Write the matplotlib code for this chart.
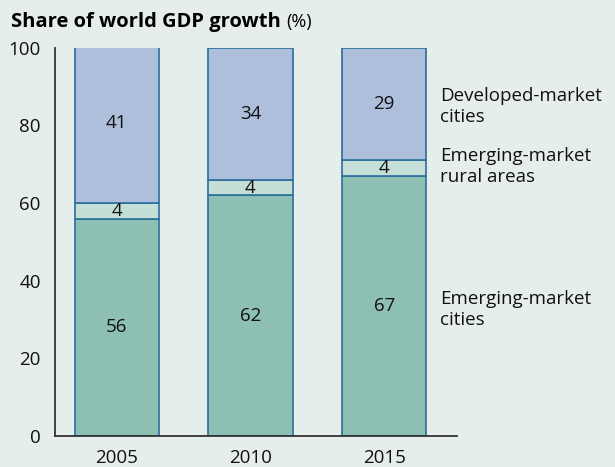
import matplotlib
matplotlib.use("Agg")
import matplotlib.pyplot as plt

years = ["2005", "2010", "2015"]
em_cities = [56, 62, 67]
em_rural = [4, 4, 4]
dev_cities = [41, 34, 29]
series_labels = ["Emerging-market\ncities", "Emerging-market\nrural areas", "Developed-market\ncities"]
label_y = [32.6, 69.4, 84.8]

bg = "#e5eeeb"
colors = ["#8dbfb2", "#c3dfd6", "#aebfdb"]
edge = "#2b6e9e"
fs = 13.5

plt.rcParams["font.family"] = ["Open Sans", "DejaVu Sans"]

fig = plt.figure(figsize=(6.15, 4.67), dpi=100, facecolor=bg)
ax = fig.add_axes([0.089, 0.066, 0.654, 0.832], facecolor=bg)

x = range(len(years))
width = 0.63
bottom = [0] * len(years)
for vals, col in zip([em_cities, em_rural, dev_cities], colors):
    ax.bar(x, vals, width, bottom=bottom, color=col, edgecolor=edge, linewidth=1.2)
    for i, v in enumerate(vals):
        ax.text(i, bottom[i] + v / 2, str(v), ha="center", va="center", fontsize=fs, color="#111111")
    bottom = [b + v for b, v in zip(bottom, vals)]

for lab, y in zip(series_labels, label_y):
    ax.text(2.416, y, lab, ha="left", va="center", fontsize=fs, color="#111111",
            linespacing=1.2, clip_on=False)

ax.set_xlim(-0.463, 2.543)
ax.set_ylim(0, 100)
ax.set_xticks(list(x))
ax.set_xticklabels(years, fontsize=fs)
ax.set_yticks([0, 20, 40, 60, 80, 100])
ax.tick_params(axis="y", length=0, pad=10, labelsize=fs, colors="#111111")
ax.tick_params(axis="x", length=0, pad=9, labelsize=fs, colors="#111111")
for s in ["top", "right"]:
    ax.spines[s].set_visible(False)
for s in ["left", "bottom"]:
    ax.spines[s].set_color("#333333")
    ax.spines[s].set_linewidth(1.3)

t = fig.text(0.018, 0.943, "Share of world GDP growth", fontsize=14.5, fontweight="bold", va="baseline")
fig.canvas.draw()
bb = t.get_window_extent()
fig.text(bb.x1 / fig.bbox.width + 0.008, 0.943, "(%)", fontsize=13, va="baseline")

fig.savefig("out.png", dpi=100, facecolor=bg)
